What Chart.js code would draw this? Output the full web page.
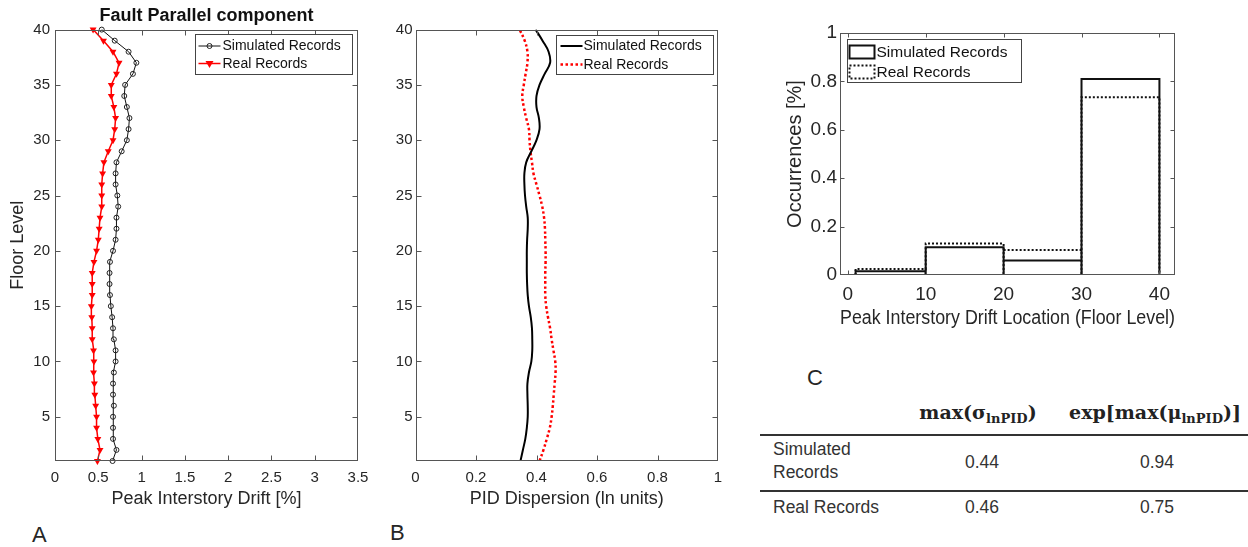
<!DOCTYPE html>
<html>
<head>
<meta charset="utf-8">
<script src="https://cdn.jsdelivr.net/npm/chart.js@4.4.1/dist/chart.umd.min.js"></script>
<style>
  body { margin: 0; background: #fff; width: 1248px; height: 547px; position: relative; overflow: hidden;
         font-family: "Liberation Sans", Arial, sans-serif; color: #262626; }
  canvas { position: absolute; }
  #cA { left: 0; top: 0; }
  #cB { left: 380px; top: 0; }
  #cC { left: 760px; top: 0; }
  .panel { position: absolute; font-size: 22px; line-height: 25px; }
  .t { position: absolute; font-size: 17.5px; color: #333; }
  .c { transform: translate(-50%, -50%); white-space: nowrap; }
  .hd { position: absolute; font-family: "DejaVu Serif", "Liberation Serif", serif; font-weight: bold; font-size: 19px;
        transform: translate(-50%, -50%); white-space: nowrap; color: #222; }
  .hd sub { font-size: 13px; vertical-align: -4px; }
  .rule { position: absolute; left: 760px; width: 488px; background: #333; }
</style>
</head>
<body>
<canvas id="cA" width="375" height="520"></canvas>
<canvas id="cB" width="345" height="520"></canvas>
<canvas id="cC" width="488" height="340"></canvas>

<div class="panel" style="left:32px; top:522px;">A</div>
<div class="panel" style="left:390px; top:520px;">B</div>
<div class="panel" style="left:807px; top:365px;">C</div>

<div class="hd" style="left:978px; top:413px;">max(σ<sub>lnPID</sub>)</div>
<div class="hd" style="left:1155px; top:413px;">exp[max(μ<sub>lnPID</sub>)]</div>
<div class="rule" style="top:434px; height:2px;"></div>
<div class="t" style="left:773px; top:438px; line-height:23px;">Simulated<br>Records</div>
<div class="t c" style="left:982px; top:462px;">0.44</div>
<div class="t c" style="left:1157px; top:462px;">0.94</div>
<div class="rule" style="top:490px; height:1.5px;"></div>
<div class="t" style="left:773px; top:496px; line-height:23px;">Real Records</div>
<div class="t c" style="left:982px; top:507px;">0.46</div>
<div class="t c" style="left:1157px; top:507px;">0.75</div>

<script>
// floor levels 1..40
var floors = [1, 2, 3, 4, 5, 6, 7, 8, 9, 10, 11, 12, 13, 14, 15, 16, 17, 18, 19, 20,
  21, 22, 23, 24, 25, 26, 27, 28, 29, 30, 31, 32, 33, 34, 35, 36, 37, 38, 39, 40];

// panel A: peak interstory drift [%]
var simPeakDrift = [0.665, 0.71, 0.67, 0.67, 0.67, 0.68, 0.67, 0.67, 0.68, 0.70,
  0.70, 0.68, 0.67, 0.66, 0.645, 0.635, 0.63, 0.63, 0.635, 0.67,
  0.70, 0.71, 0.71, 0.73, 0.72, 0.70, 0.70, 0.71, 0.77, 0.83,
  0.85, 0.86, 0.83, 0.80, 0.81, 0.90, 0.94, 0.85, 0.69, 0.54];
var realPeakDrift = [0.49, 0.52, 0.495, 0.48, 0.48, 0.47, 0.46, 0.455, 0.445, 0.45,
  0.445, 0.43, 0.43, 0.425, 0.42, 0.43, 0.43, 0.43, 0.45, 0.48,
  0.50, 0.51, 0.52, 0.54, 0.54, 0.54, 0.55, 0.565, 0.615, 0.67,
  0.69, 0.70, 0.68, 0.65, 0.65, 0.71, 0.74, 0.67, 0.56, 0.44];

// panel B: PID dispersion (ln units)
var simDispersion = [0.347, 0.355, 0.363, 0.368, 0.371, 0.371, 0.37, 0.37, 0.375, 0.383,
  0.386, 0.386, 0.385, 0.381, 0.375, 0.371, 0.369, 0.368, 0.368, 0.368,
  0.369, 0.371, 0.371, 0.366, 0.362, 0.36, 0.36, 0.366, 0.383, 0.40,
  0.41, 0.408, 0.40, 0.40, 0.41, 0.427, 0.445, 0.44, 0.42, 0.397];
var realDispersion = [0.41, 0.423, 0.434, 0.444, 0.45, 0.454, 0.457, 0.46, 0.463, 0.462,
  0.456, 0.45, 0.445, 0.438, 0.432, 0.429, 0.429, 0.429, 0.43, 0.43,
  0.429, 0.428, 0.425, 0.419, 0.41, 0.40, 0.39, 0.385, 0.38, 0.377,
  0.375, 0.366, 0.358, 0.353, 0.358, 0.364, 0.37, 0.37, 0.361, 0.344];

// panel C: histogram of peak drift location
var binEdges = [1, 10, 20, 30, 40];
var simOccurrences = [0.015, 0.115, 0.06, 0.81];
var realOccurrences = [0.025, 0.13, 0.103, 0.735];

// tick labels
var floorTicks = [5, 10, 15, 20, 25, 30, 35, 40];
var driftTicks = [0, 0.5, 1, 1.5, 2, 2.5, 3, 3.5];
var dispersionTicks = [0, 0.2, 0.4, 0.6, 0.8, 1];
var locationTicks = [0, 10, 20, 30, 40];
var occurrenceTicks = [0, 0.2, 0.4, 0.6, 0.8, 1];

function toPoints(xs, ys) {
  return xs.map(function (v, i) { return { x: v, y: ys[i] }; });
}

// outline of histogram bars as a step path
function histOutline(edges, heights) {
  var pts = [];
  for (var i = 0; i < heights.length; i++) {
    pts.push({ x: edges[i], y: 0 });
    pts.push({ x: edges[i], y: heights[i] });
    pts.push({ x: edges[i + 1], y: heights[i] });
    pts.push({ x: edges[i + 1], y: 0 });
  }
  return pts;
}

function fixTicks(list) {
  return function (scale) { scale.ticks = list.map(function (v) { return { value: v }; }); };
}

// matlab prints 1 not 1.0
function plainLabel(v) {
  return String(+v.toFixed(2));
}

Chart.defaults.font.family = '"Liberation Sans", Arial, sans-serif';
Chart.defaults.color = '#262626';

// box around plot with inward ticks, matlab style
var framePlugin = {
  id: 'frame',
  afterDatasetsDraw: function (chart, args, opts) {
    var a = chart.chartArea, ctx = chart.ctx, len = opts.tickLen || 5;
    var L = Math.round(a.left) + 0.5, R = Math.round(a.right) - 0.5;
    var T = Math.round(a.top) + 0.5, B = Math.round(a.bottom) - 0.5;
    ctx.save();
    ctx.strokeStyle = '#555';
    ctx.lineWidth = 1;
    ctx.strokeRect(L, T, R - L, B - T);
    ctx.beginPath();
    chart.scales.x.ticks.forEach(function (t) {
      var px = Math.round(chart.scales.x.getPixelForValue(t.value)) + 0.5;
      if (px <= L + 1 || px >= R - 1) return;
      ctx.moveTo(px, B); ctx.lineTo(px, B - len);
      ctx.moveTo(px, T); ctx.lineTo(px, T + len);
    });
    chart.scales.y.ticks.forEach(function (t) {
      var py = Math.round(chart.scales.y.getPixelForValue(t.value)) + 0.5;
      if (py <= T + 1 || py >= B - 1) return;
      ctx.moveTo(L, py); ctx.lineTo(L + len, py);
      ctx.moveTo(R, py); ctx.lineTo(R - len, py);
    });
    ctx.stroke();
    ctx.restore();
  }
};

// legend drawn inside the axes with a border
var boxLegend = {
  id: 'boxLegend',
  afterDraw: function (chart, args, o) {
    if (!o || !o.box) return;
    var ctx = chart.ctx, a = chart.chartArea;
    var bx = Math.round(a.left + o.box[0]) + 0.5, by = Math.round(a.top + o.box[1]) + 0.5;
    var bw = o.box[2], bh = o.box[3];
    ctx.save();
    ctx.fillStyle = '#fff';
    ctx.fillRect(bx, by, bw, bh);
    ctx.strokeStyle = '#444';
    ctx.lineWidth = 1;
    ctx.strokeRect(bx, by, bw, bh);
    ctx.font = o.fontSize + 'px "Liberation Sans", Arial, sans-serif';
    ctx.textBaseline = 'middle';
    chart.data.datasets.forEach(function (ds, i) {
      var y = by + o.rows[i];
      var x0 = bx + o.sample[0], x1 = bx + o.sample[1];
      ctx.strokeStyle = ds.borderColor;
      ctx.lineWidth = ds.borderWidth;
      ctx.setLineDash(ds.borderDash || []);
      if (o.kind === 'rect') {
        ctx.strokeRect(x0, y - o.rectH / 2, x1 - x0, o.rectH);
      } else {
        ctx.beginPath(); ctx.moveTo(x0, y); ctx.lineTo(x1, y); ctx.stroke();
      }
      ctx.setLineDash([]);
      if (ds.pointRadius > 0) {
        var cx = (x0 + x1) / 2, r = ds.pointRadius;
        ctx.beginPath();
        if (ds.pointStyle === 'triangle') {
          ctx.moveTo(cx - r, y - r * 0.6); ctx.lineTo(cx + r, y - r * 0.6); ctx.lineTo(cx, y + r * 1.1); ctx.closePath();
          ctx.fillStyle = ds.pointBackgroundColor; ctx.fill();
        } else {
          ctx.arc(cx, y, r, 0, Math.PI * 2);
          ctx.lineWidth = ds.pointBorderWidth || 1; ctx.strokeStyle = ds.pointBorderColor; ctx.stroke();
        }
      }
      ctx.fillStyle = '#111';
      ctx.fillText(ds.label, bx + o.textX, y + 0.5);
    });
    ctx.restore();
  }
};

// fixed axis sizes so the plot boxes land where they should
function axisX(min, max, ticks, title, h, tPad, titlePad, fs, tfs) {
  return {
    type: 'linear', min: min, max: max,
    afterBuildTicks: fixTicks(ticks),
    afterFit: function (s) { s.height = h; s.paddingLeft = 0; s.paddingRight = 0; },
    grid: { display: false, drawTicks: false },
    border: { display: false },
    ticks: { padding: tPad, font: { size: fs }, maxRotation: 0, autoSkip: false, callback: plainLabel },
    title: { display: true, text: title, font: { size: tfs }, padding: { top: 0, bottom: titlePad } }
  };
}
function axisY(min, max, ticks, title, w, tPad, titlePad, fs, tfs) {
  return {
    type: 'linear', min: min, max: max,
    afterBuildTicks: fixTicks(ticks),
    afterFit: function (s) { s.width = w; s.paddingTop = 0; s.paddingBottom = 0; },
    grid: { display: false, drawTicks: false },
    border: { display: false },
    ticks: { padding: tPad, font: { size: fs }, autoSkip: false, callback: plainLabel },
    title: { display: !!title, text: title, font: { size: tfs }, padding: { top: titlePad, bottom: 0 } }
  };
}

new Chart(document.getElementById('cA'), {
  type: 'scatter',
  data: {
    datasets: [
      { label: 'Simulated Records', data: toPoints(simPeakDrift, floors), showLine: true, clip: false,
        borderColor: '#111', borderWidth: 1, pointStyle: 'circle', pointRadius: 2.5,
        pointBorderColor: '#222', pointBorderWidth: 1, pointBackgroundColor: 'rgba(0,0,0,0)' },
      { label: 'Real Records', data: toPoints(realPeakDrift, floors), showLine: true, clip: false,
        borderColor: '#ff0000', borderWidth: 1.5, pointStyle: 'triangle', pointRotation: 180, pointRadius: 4,
        pointBorderColor: '#ff0000', pointBorderWidth: 0, pointBackgroundColor: '#ff0000' }
    ]
  },
  options: {
    responsive: false, animation: false, events: [],
    layout: { padding: { left: 0, right: 17, top: 0, bottom: 0 } },
    scales: {
      x: axisX(0, 3.5, driftTicks, 'Peak Interstory Drift [%]', 59, 8, 10, 15, 18),
      y: axisY(1, 40, floorTicks, 'Floor Level', 55, 5, 7, 15, 18)
    },
    plugins: {
      legend: { display: false }, tooltip: { enabled: false },
      title: { display: true, fullSize: false, text: 'Fault Parallel component', color: '#111',
               font: { size: 18, weight: 'bold' }, padding: { top: 5, bottom: 3 } },
      frame: { tickLen: 5 },
      boxLegend: { box: [140, 4.5, 157, 40], rows: [11.5, 29], sample: [3, 25], textX: 27, fontSize: 14 }
    }
  },
  plugins: [framePlugin, boxLegend]
});

new Chart(document.getElementById('cB'), {
  type: 'scatter',
  data: {
    datasets: [
      { label: 'Simulated Records', data: toPoints(simDispersion, floors), showLine: true, tension: 0.4,
        borderColor: '#000', borderWidth: 2, pointRadius: 0 },
      { label: 'Real Records', data: toPoints(realDispersion, floors), showLine: true, tension: 0.4,
        borderColor: '#ff0000', borderWidth: 2.5, borderDash: [2.5, 2.5], pointRadius: 0 }
    ]
  },
  options: {
    responsive: false, animation: false, events: [],
    layout: { padding: { left: 0, right: 7, top: 29.6, bottom: 0 } },
    scales: {
      x: axisX(0, 1, dispersionTicks, 'PID Dispersion (ln units)', 59, 8, 10, 15, 18),
      y: axisY(1, 40, floorTicks, '', 35.5, 3, 0, 15, 18)
    },
    plugins: {
      legend: { display: false }, tooltip: { enabled: false },
      frame: { tickLen: 5 },
      boxLegend: { box: [140, 5.5, 157, 39], rows: [10.5, 29], sample: [4, 26], textX: 27, fontSize: 14 }
    }
  },
  plugins: [framePlugin, boxLegend]
});

new Chart(document.getElementById('cC'), {
  type: 'scatter',
  data: {
    datasets: [
      { label: 'Simulated Records', data: histOutline(binEdges, simOccurrences), showLine: true, tension: 0,
        borderColor: '#111', borderWidth: 2, pointRadius: 0 },
      { label: 'Real Records', data: histOutline(binEdges, realOccurrences), showLine: true, tension: 0,
        borderColor: '#111', borderWidth: 2, borderDash: [2, 2], pointRadius: 0 }
    ]
  },
  options: {
    responsive: false, animation: false, events: [],
    layout: { padding: { left: 0, right: 73, top: 33, bottom: 0 } },
    scales: {
      x: axisX(-1, 42, locationTicks, 'Peak Interstory Drift Location (Floor Level)', 65, 8, 10, 19, 20),
      y: axisY(0, 1, occurrenceTicks, 'Occurrences [%]', 80, 3, 23, 19, 20)
    },
    plugins: {
      legend: { display: false }, tooltip: { enabled: false },
      frame: { tickLen: 4 },
      boxLegend: { box: [7, 6, 174, 43], kind: 'rect', rectH: 13, rows: [12.5, 32.5], sample: [2, 27], textX: 29, fontSize: 15.5 }
    }
  },
  plugins: [framePlugin, boxLegend]
});
</script>
</body>
</html>
